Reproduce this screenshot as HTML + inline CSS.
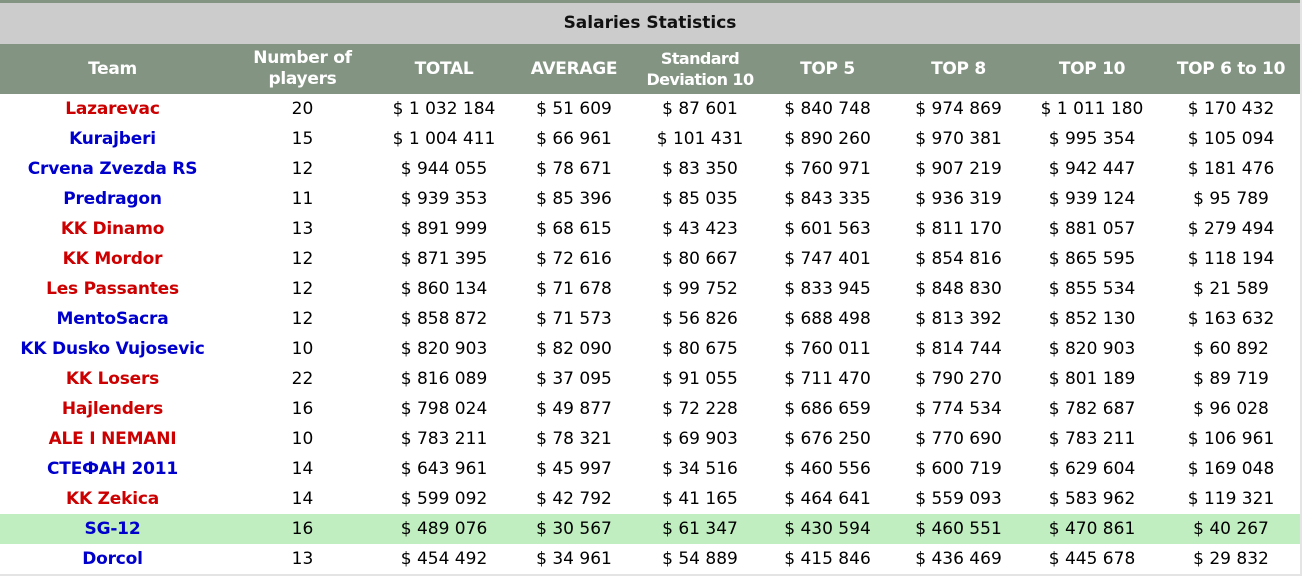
<!DOCTYPE html>
<html><head><meta charset="utf-8"><style>
body{margin:0;width:1302px;height:576px;background:#fff;overflow:hidden;font-family:"DejaVu Sans","Liberation Sans",sans-serif;}
#wrap{position:absolute;left:0;top:0;width:1300px;height:574px;border-right:2px solid #e4e4e4;border-bottom:2px solid #e4e4e4;overflow:hidden;}
#topline{height:3px;background:#849483;}
#title{height:41px;background:#cccccc;text-align:center;font-weight:bold;font-size:17px;line-height:41px;color:#111;}
table{border-collapse:collapse;table-layout:fixed;width:1300px;}
th{background:#849483;color:#fff;font-size:17px;font-weight:bold;height:50px;padding:0;line-height:21px;white-space:nowrap;letter-spacing:-0.3px;}
td{height:30px;padding:0;text-align:center;font-size:17px;color:#000;white-space:nowrap;line-height:30px;}
td.t{font-weight:bold;letter-spacing:-0.2px;}
.r{color:#cc0000}.b{color:#0000cc}
tr.hl td{background:#c0eec0;}
</style></head><body>
<div id="wrap">
<div id="topline"></div>
<div id="title">Salaries Statistics</div>
<table>
<colgroup><col style="width:225px"><col style="width:155px"><col style="width:128px"><col style="width:132px"><col style="width:120px"><col style="width:135px"><col style="width:127px"><col style="width:140px"><col style="width:138px"></colgroup>
<thead><tr>
<th>Team</th>
<th>Number of<br>players</th>
<th>TOTAL</th>
<th>AVERAGE</th>
<th style="font-size:16px;letter-spacing:-0.6px">Standard<br>Deviation 10</th>
<th>TOP 5</th>
<th>TOP 8</th>
<th>TOP 10</th>
<th>TOP 6 to 10</th>
</tr></thead>
<tbody id="tb"></tbody>
</table>
</div>
<script>
const teams=["Lazarevac","Kurajberi","Crvena Zvezda RS","Predragon","KK Dinamo","KK Mordor","Les Passantes","MentoSacra","KK Dusko Vujosevic","KK Losers","Hajlenders","ALE I NEMANI","СТЕФАН 2011","KK Zekica","SG-12","Dorcol"];
const colors=["r","b","b","b","r","r","r","b","b","r","r","r","b","r","b","b"];
const players=[20,15,12,11,13,12,12,12,10,22,16,10,14,14,16,13];
const total=["1 032 184","1 004 411","944 055","939 353","891 999","871 395","860 134","858 872","820 903","816 089","798 024","783 211","643 961","599 092","489 076","454 492"];
const average=["51 609","66 961","78 671","85 396","68 615","72 616","71 678","71 573","82 090","37 095","49 877","78 321","45 997","42 792","30 567","34 961"];
const stddev=["87 601","101 431","83 350","85 035","43 423","80 667","99 752","56 826","80 675","91 055","72 228","69 903","34 516","41 165","61 347","54 889"];
const top5=["840 748","890 260","760 971","843 335","601 563","747 401","833 945","688 498","760 011","711 470","686 659","676 250","460 556","464 641","430 594","415 846"];
const top8=["974 869","970 381","907 219","936 319","811 170","854 816","848 830","813 392","814 744","790 270","774 534","770 690","600 719","559 093","460 551","436 469"];
const top10=["1 011 180","995 354","942 447","939 124","881 057","865 595","855 534","852 130","820 903","801 189","782 687","783 211","629 604","583 962","470 861","445 678"];
const top610=["170 432","105 094","181 476","95 789","279 494","118 194","21 589","163 632","60 892","89 719","96 028","106 961","169 048","119 321","40 267","29 832"];
const highlight=14;
const tb=document.getElementById('tb');
const colNames=['players','total','average','stddev','top5','top8','top10','top6-10'];
teams.forEach((t,i)=>{
  const tr=document.createElement('tr');
  
  
  if(i===highlight)tr.className='hl';
  const td=document.createElement('td');
  td.className='t '+colors[i];
  td.textContent=t;
  
  
  tr.appendChild(td);
  const vals=[players[i],'$ '+total[i],'$ '+average[i],'$ '+stddev[i],'$ '+top5[i],'$ '+top8[i],'$ '+top10[i],'$ '+top610[i]];
  vals.forEach((v,j)=>{
    const c=document.createElement('td');
    c.textContent=v;
    
    
    tr.appendChild(c);
  });
  tb.appendChild(tr);
});
</script>
</body></html>
